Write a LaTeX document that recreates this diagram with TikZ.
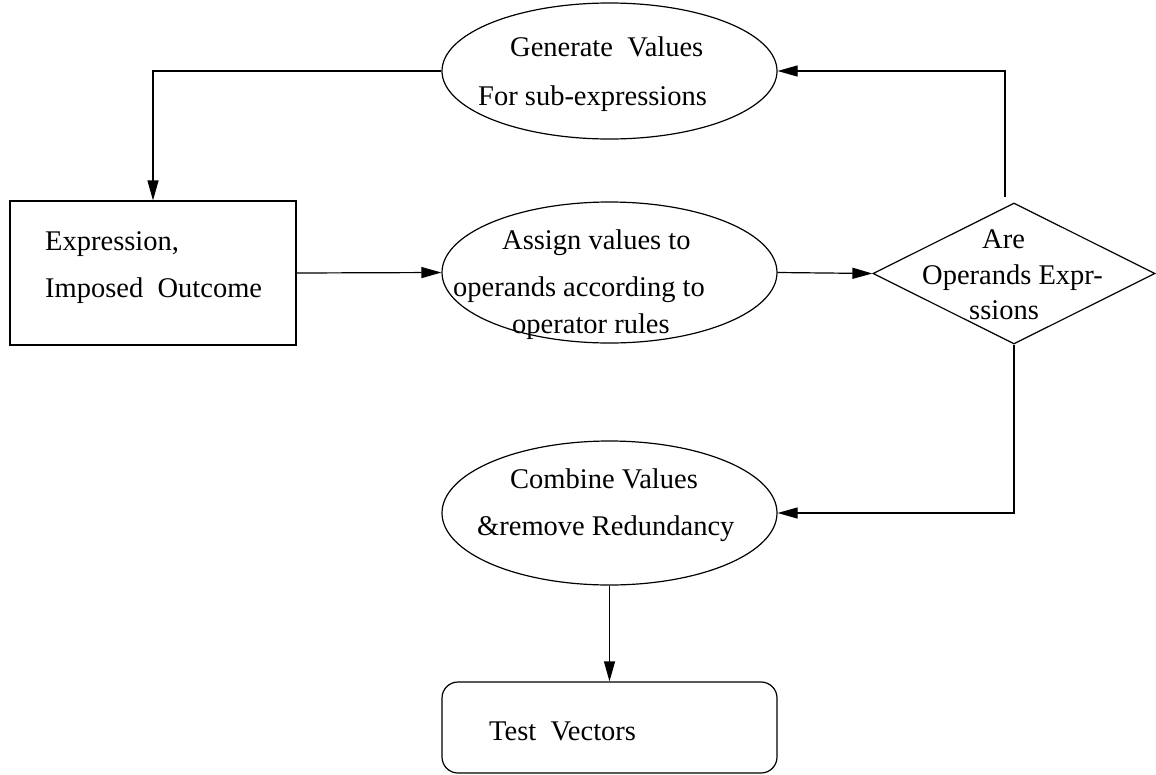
\documentclass[tikz,border=0pt]{standalone}
\usepackage{fontspec}
\setmainfont{Liberation Serif}
\usetikzlibrary{shapes.geometric,arrows.meta}
\begin{document}
\begin{tikzpicture}[x=1pt,y=-1pt,
  every node/.style={font=\fontsize{28.5}{34}\selectfont},
  shapebox/.style={draw,line width=1.2pt,inner sep=0pt},
  ell/.style={shapebox,ellipse,minimum width=335pt},
  txt/.style={anchor=base west,inner sep=0pt},
  arr/.style={line width=1.2pt,-{Triangle[length=20pt,width=11pt]}}]
\useasboundingbox (0,0) rectangle (1156,774);
% shapes
\node[ell,minimum height=136pt] (gen) at (609.5,71) {};
\node[shapebox,rectangle,minimum width=286pt,minimum height=144pt] (expr) at (153,273) {};
\node[ell,minimum height=141pt] (assign) at (609.5,272.5) {};
\node[shapebox,diamond,minimum width=282pt,minimum height=141pt] (dia) at (1014,273.5) {};
\node[ell,minimum height=144pt] (comb) at (609.5,513) {};
\node[shapebox,rectangle,rounded corners=16pt,minimum width=335pt,minimum height=91pt] (tv) at (609.5,727.5) {};
% texts
\node[txt] (genA) at (510,56) {Generate\ \ Values};
\node[txt] (genB) at (478,105) {For sub-expressions};
\node[txt] (exprA) at (45,250) {Expression,};
\node[txt] (exprB) at (45,297) {Imposed\ \ Outcome};
\node[txt] (asA) at (502,249) {Assign values to};
\node[txt] (asB) at (453,296) {operands according to};
\node[txt] (asC) at (512,333) {operator rules};
\node[txt] (diaA) at (982,248) {Are};
\node[txt] (diaB) at (922,284) {Operands Expr-};
\node[txt] (diaC) at (969,319) {ssions};
\node[txt] (combA) at (510,488) {Combine Values};
\node[txt] (combB) at (477,535) {\&remove Redundancy};
\node[txt] (tvA) at (489,740) {Test\ \ Vectors};
% connectors
\coordinate (up) at (1005,197);
\draw[arr] (gen.west) -| (expr.north);
\draw[arr] (expr.east) -- (assign.west);
\draw[arr] (assign.east) -- (dia.west);
\draw[arr] (up) |- (gen.east);
\draw[arr] (dia.south) |- (comb.east);
\draw[arr] (comb.south) -- (tv.north);
\end{tikzpicture}
\end{document}
